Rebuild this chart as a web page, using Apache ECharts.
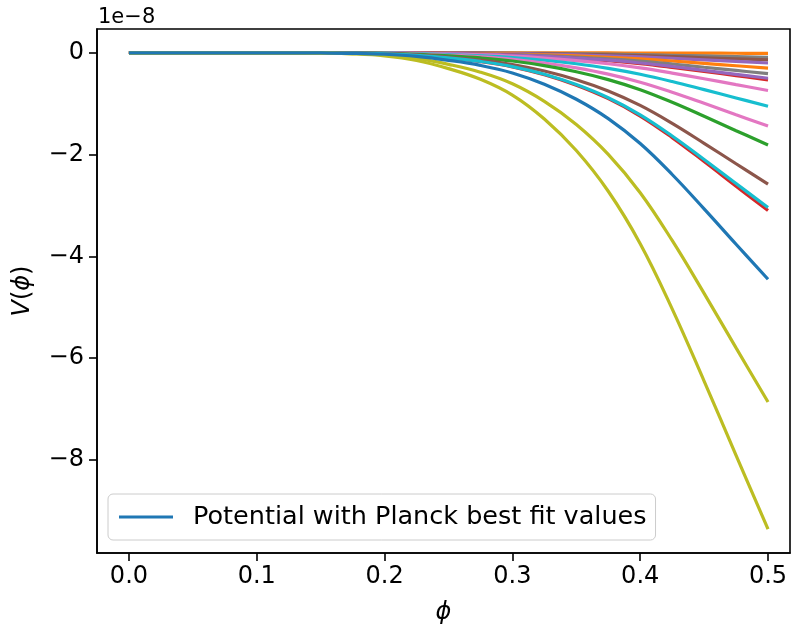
<!DOCTYPE html>
<html>
<head>
<meta charset="utf-8">
<script src="https://cdn.jsdelivr.net/npm/echarts@6/dist/echarts.min.js"></script>
<style>
html,body{margin:0;padding:0;background:#fff;}
#chart{width:794px;height:630px;}
</style>
</head>
<body>
<div id="chart"></div>
<script>
// phi grid (x values)
var phi = [0,0.025,0.05,0.075,0.1,0.125,0.15,0.175,0.2,0.225,0.25,0.275,0.3,0.325,0.35,0.375,0.4,0.425,0.45,0.475,0.5];
var xTicks = [0,0.1,0.2,0.3,0.4,0.5];
var yTicks = [0,-2,-4,-6,-8];

// V(phi) in units of 1e-8
var vOlive1 = [0,0,0,0,0,-0.001,-0.006,-0.02,-0.06,-0.15,-0.31,-0.52,-0.83,-1.30,-1.92,-2.72,-3.75,-5.03,-6.45,-7.91,-9.36];
var vOlive2 = [0,0,0,0,0,-0.001,-0.004,-0.015,-0.044,-0.11,-0.227,-0.381,-0.608,-0.953,-1.407,-1.994,-2.748,-3.687,-4.727,-5.797,-6.86];
var vRed1 = [0,0,0,0,0,0,-0.002,-0.0066,-0.0199,-0.0496,-0.1026,-0.172,-0.275,-0.431,-0.636,-0.901,-1.242,-1.666,-2.136,-2.62,-3.10];
var vCyan1 = [0,0,0,0,0,0,-0.0019,-0.0065,-0.0195,-0.0486,-0.1006,-0.169,-0.270,-0.422,-0.624,-0.883,-1.218,-1.634,-2.095,-2.569,-3.04];
var vBrown1 = [0,0,0,0,0,0,-0.0017,-0.0055,-0.0165,-0.0413,-0.0854,-0.1434,-0.2288,-0.358,-0.529,-0.750,-1.034,-1.386,-1.778,-2.180,-2.58];
var vGreen1 = [0,0,0,0,0,0,-0.0012,-0.0039,-0.0116,-0.029,-0.060,-0.1006,-0.1605,-0.2514,-0.371,-0.526,-0.725,-0.973,-1.247,-1.530,-1.81];
var vPink1 = [0,0,0,0,0,0,-0.0009,-0.0031,-0.0092,-0.023,-0.0477,-0.080,-0.1277,-0.200,-0.295,-0.418,-0.577,-0.774,-0.992,-1.217,-1.44];
var vCyan2 = [0,0,0,0,0,0,-0.0007,-0.0022,-0.0067,-0.0168,-0.0348,-0.0584,-0.0931,-0.1458,-0.2154,-0.305,-0.421,-0.564,-0.724,-0.887,-1.05];
var vPink2 = [0,0,0,0,0,0,0,-0.0016,-0.0047,-0.0118,-0.0245,-0.0411,-0.0656,-0.1028,-0.1518,-0.215,-0.296,-0.398,-0.510,-0.625,-0.74];
var vRed2 = [0,0,0,0,0,0,0,-0.0011,-0.0034,-0.0085,-0.0175,-0.0295,-0.047,-0.0736,-0.1087,-0.154,-0.212,-0.285,-0.365,-0.448,-0.53];
var vPurple1 = [0,0,0,0,0,0,0,-0.0011,-0.0032,-0.008,-0.0166,-0.0278,-0.0444,-0.0695,-0.1026,-0.1453,-0.200,-0.269,-0.345,-0.423,-0.50];
var vGray1 = [0,0,0,0,0,0,0,-0.0009,-0.0026,-0.0066,-0.0136,-0.0228,-0.0364,-0.057,-0.0841,-0.119,-0.164,-0.220,-0.283,-0.346,-0.41];
var vOrange1 = [0,0,0,0,0,0,0,-0.0006,-0.0019,-0.0048,-0.0099,-0.0167,-0.0266,-0.0417,-0.0615,-0.0872,-0.120,-0.161,-0.207,-0.254,-0.30];
var vPurple2 = [0,0,0,0,0,0,0,0,-0.0013,-0.0032,-0.0066,-0.0111,-0.0177,-0.0278,-0.041,-0.058,-0.080,-0.107,-0.138,-0.169,-0.20];
var vBrown2 = [0,0,0,0,0,0,0,0,-0.0009,-0.0022,-0.0046,-0.0078,-0.0124,-0.0194,-0.0287,-0.0407,-0.056,-0.075,-0.0965,-0.118,-0.14];
var vGray2 = [0,0,0,0,0,0,0,0,-0.0006,-0.0014,-0.003,-0.005,-0.008,-0.0125,-0.0185,-0.026,-0.036,-0.048,-0.062,-0.076,-0.09];
var vOrange2 = [0,0,0,0,0,0,0,0,0,-0.0002,-0.0003,-0.0006,-0.0009,-0.0014,-0.002,-0.0029,-0.004,-0.0054,-0.0069,-0.0085,-0.01];
var vPlanck = [0,0,0,0,0,0,-0.003,-0.0095,-0.0285,-0.071,-0.147,-0.247,-0.395,-0.618,-0.913,-1.293,-1.783,-2.391,-3.066,-3.761,-4.45];

var C = {blue:'#1f77b4',orange:'#ff7f0e',green:'#2ca02c',red:'#d62728',purple:'#9467bd',brown:'#8c564b',pink:'#e377c2',gray:'#7f7f7f',olive:'#bcbd22',cyan:'#17becf'};

var curves = [
  ['c1', vOrange2, C.orange],
  ['c2', vGray2, C.gray],
  ['c3', vBrown2, C.brown],
  ['c4', vPurple2, C.purple],
  ['c5', vOrange1, C.orange],
  ['c6', vGray1, C.gray],
  ['c7', vRed2, C.red],
  ['c8', vPurple1, C.purple],
  ['c9', vPink2, C.pink],
  ['c10', vCyan2, C.cyan],
  ['c11', vPink1, C.pink],
  ['c12', vGreen1, C.green],
  ['c13', vBrown1, C.brown],
  ['c14', vRed1, C.red],
  ['c15', vCyan1, C.cyan],
  ['c16', vOlive2, C.olive],
  ['c17', vOlive1, C.olive],
  ['Potential with Planck best fit values', vPlanck, C.blue]
];

var FONT = 'DejaVu Sans';
var series = curves.map(function(c){
  return {
    name: c[0], type:'line', showSymbol:false, symbol:'none',
    smooth:0.4,
    data: phi.map(function(p,i){return [p, c[1][i]];}),
    lineStyle:{color:c[2], width:3.2},
    itemStyle:{color:c[2]},
    animation:false, silent:true
  };
});

var chart = echarts.init(document.getElementById('chart'), null, {renderer:'canvas'});
chart.setOption({
  animation:false,
  backgroundColor:'#fff',
  title:{text:'1e\u22128', left:93, top:2, textStyle:{fontFamily:FONT, fontSize:21, fontWeight:'normal', color:'#000'}},
  grid:{left:97, top:29, width:693, height:524, show:true, borderColor:'#000', borderWidth:1.6, containLabel:false},
  legend:{
    data:['Potential with Planck best fit values'],
    left:108, top:494,
    padding:[9,9,9,11],
    backgroundColor:'rgba(255,255,255,0.8)',
    borderColor:'#ccc', borderWidth:1, borderRadius:5,
    icon:'rect', itemWidth:54, itemHeight:3,
    textStyle:{fontFamily:FONT, fontSize:25.5, color:'#000', padding:[0,0,0,15], lineHeight:28},
    selectedMode:false
  },
  xAxis:{
    type:'value', min:-0.025, max:0.5172,
    axisLine:{show:true, onZero:false, lineStyle:{color:'#000', width:1.6}},
    axisTick:{show:true, inside:false, length:8, lineStyle:{color:'#000', width:1.6}, customValues:xTicks},
    axisLabel:{show:true, margin:12, fontFamily:FONT, fontSize:24, color:'#000', customValues:xTicks,
      formatter:function(v){return v.toFixed(1);}},
    splitLine:{show:false},
    name:'\u03d5', nameLocation:'middle', nameGap:48,
    nameTextStyle:{fontFamily:FONT, fontSize:24, fontStyle:'italic', color:'#000'}
  },
  yAxis:{
    type:'value', min:-9.828, max:0.468,
    axisLine:{show:true, onZero:false, lineStyle:{color:'#000', width:1.6}},
    axisTick:{show:true, inside:false, length:8, lineStyle:{color:'#000', width:1.6}, customValues:yTicks},
    axisLabel:{show:true, margin:13, fontFamily:FONT, fontSize:24, color:'#000', customValues:yTicks,
      formatter:function(v){return v<0 ? '\u2212'+Math.abs(v) : String(v);}},
    splitLine:{show:false},
    name:'{i|V}({i|\u03d5})', nameLocation:'middle', nameGap:62,
    nameTextStyle:{fontFamily:FONT, fontSize:24, color:'#000', rich:{i:{fontFamily:FONT, fontSize:24, fontStyle:'italic', color:'#000'}}}
  },
  series: series
});
</script>
</body>
</html>
